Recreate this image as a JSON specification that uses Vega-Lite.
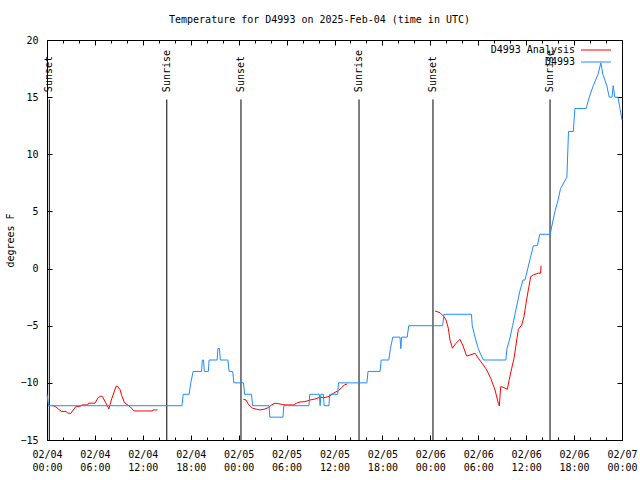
{
  "$schema": "https://vega.github.io/schema/vega-lite/v6.json",
  "width": 575,
  "height": 400,
  "autosize": {"type": "none"},
  "padding": {"left": 47, "top": 40, "right": 18, "bottom": 40},
  "background": "white",
  "config": {
    "font": "DejaVu Sans Mono",
    "view": {"stroke": "black", "strokeWidth": 1},
    "axis": {"grid": false, "domain": false, "labelFont": "DejaVu Sans Mono", "labelFontSize": 10, "labelColor": "black", "tickColor": "black", "tickWidth": 1, "titleFont": "DejaVu Sans Mono", "titleFontSize": 10, "titleFontWeight": "normal", "titleColor": "black", "labelFlush": false, "labelOverlap": false}
  },
  "title": {"text": "Temperature for D4993 on 2025-Feb-04 (time in UTC)", "font": "DejaVu Sans Mono", "fontSize": 10, "fontWeight": "normal", "color": "black", "anchor": "middle", "dx": -15, "offset": 10},
  "datasets": {
    "sun": [
      {"h": 0.29, "event": "Sunset"},
      {"h": 15.0, "event": "Sunrise"},
      {"h": 24.29, "event": "Sunset"},
      {"h": 39.07, "event": "Sunrise"},
      {"h": 48.33, "event": "Sunset"},
      {"h": 62.99, "event": "Sunrise"}
    ],
    "analysis": [
      {"h": 0.65, "temp": -12.0, "seg": 1}, {"h": 0.8, "temp": -12.0, "seg": 1}, {"h": 1.1, "temp": -12.1, "seg": 1}, {"h": 1.8, "temp": -12.5, "seg": 1}, {"h": 2.4, "temp": -12.5, "seg": 1},
      {"h": 2.6, "temp": -12.66, "seg": 1}, {"h": 3.0, "temp": -12.66, "seg": 1}, {"h": 3.6, "temp": -12.08, "seg": 1}, {"h": 4.1, "temp": -12.08, "seg": 1}, {"h": 4.4, "temp": -11.93, "seg": 1},
      {"h": 5.1, "temp": -11.93, "seg": 1}, {"h": 5.2, "temp": -11.78, "seg": 1}, {"h": 6.0, "temp": -11.78, "seg": 1}, {"h": 6.4, "temp": -11.3, "seg": 1}, {"h": 6.75, "temp": -11.15, "seg": 1},
      {"h": 6.95, "temp": -11.2, "seg": 1}, {"h": 7.25, "temp": -11.6, "seg": 1}, {"h": 7.75, "temp": -12.28, "seg": 1}, {"h": 7.9, "temp": -11.9, "seg": 1}, {"h": 8.1, "temp": -11.4, "seg": 1},
      {"h": 8.4, "temp": -10.8, "seg": 1}, {"h": 8.65, "temp": -10.3, "seg": 1}, {"h": 8.8, "temp": -10.27, "seg": 1}, {"h": 9.15, "temp": -10.6, "seg": 1}, {"h": 9.35, "temp": -11.1, "seg": 1},
      {"h": 9.7, "temp": -11.73, "seg": 1}, {"h": 10.4, "temp": -12.08, "seg": 1}, {"h": 10.9, "temp": -12.46, "seg": 1}, {"h": 13.2, "temp": -12.46, "seg": 1}, {"h": 13.3, "temp": -12.37, "seg": 1},
      {"h": 13.85, "temp": -12.37, "seg": 1},
      {"h": 24.58, "temp": -11.43, "seg": 2}, {"h": 24.92, "temp": -11.5, "seg": 2}, {"h": 25.2, "temp": -11.85, "seg": 2}, {"h": 25.5, "temp": -12.08, "seg": 2}, {"h": 25.76, "temp": -12.22, "seg": 2},
      {"h": 26.26, "temp": -12.31, "seg": 2}, {"h": 26.67, "temp": -12.37, "seg": 2}, {"h": 27.17, "temp": -12.31, "seg": 2}, {"h": 27.71, "temp": -12.17, "seg": 2}, {"h": 28.14, "temp": -11.93, "seg": 2},
      {"h": 28.55, "temp": -11.78, "seg": 2}, {"h": 28.96, "temp": -11.82, "seg": 2}, {"h": 29.51, "temp": -11.9, "seg": 2}, {"h": 30.02, "temp": -11.93, "seg": 2}, {"h": 30.84, "temp": -11.93, "seg": 2},
      {"h": 31.27, "temp": -11.78, "seg": 2}, {"h": 31.68, "temp": -11.67, "seg": 2}, {"h": 32.31, "temp": -11.64, "seg": 2}, {"h": 32.93, "temp": -11.5, "seg": 2}, {"h": 33.56, "temp": -11.41, "seg": 2},
      {"h": 34.19, "temp": -11.26, "seg": 2}, {"h": 34.81, "temp": -11.29, "seg": 2}, {"h": 35.44, "temp": -11.15, "seg": 2}, {"h": 35.85, "temp": -10.91, "seg": 2}, {"h": 36.48, "temp": -10.68, "seg": 2},
      {"h": 36.9, "temp": -10.42, "seg": 2}, {"h": 37.23, "temp": -10.18, "seg": 2}, {"h": 37.6, "temp": -10.1, "seg": 2},
      {"h": 48.59, "temp": -3.71, "seg": 3}, {"h": 49.21, "temp": -3.86, "seg": 3}, {"h": 49.71, "temp": -4.21, "seg": 3}, {"h": 49.96, "temp": -4.5, "seg": 3}, {"h": 50.25, "temp": -5.22, "seg": 3},
      {"h": 50.46, "temp": -6.25, "seg": 3}, {"h": 50.77, "temp": -6.97, "seg": 3}, {"h": 51.21, "temp": -6.54, "seg": 3}, {"h": 51.71, "temp": -6.19, "seg": 3}, {"h": 52.05, "temp": -6.69, "seg": 3},
      {"h": 52.55, "temp": -7.65, "seg": 3}, {"h": 52.97, "temp": -7.56, "seg": 3}, {"h": 53.6, "temp": -7.41, "seg": 3}, {"h": 54.01, "temp": -7.85, "seg": 3}, {"h": 54.63, "temp": -8.43, "seg": 3},
      {"h": 55.06, "temp": -8.87, "seg": 3}, {"h": 55.56, "temp": -9.6, "seg": 3}, {"h": 56.1, "temp": -10.62, "seg": 3}, {"h": 56.51, "temp": -11.78, "seg": 3}, {"h": 56.64, "temp": -12.02, "seg": 3},
      {"h": 56.81, "temp": -10.33, "seg": 3}, {"h": 57.14, "temp": -10.39, "seg": 3}, {"h": 57.64, "temp": -10.56, "seg": 3}, {"h": 57.89, "temp": -9.69, "seg": 3}, {"h": 58.19, "temp": -8.72, "seg": 3},
      {"h": 58.48, "temp": -7.85, "seg": 3}, {"h": 58.82, "temp": -6.25, "seg": 3}, {"h": 59.02, "temp": -5.31, "seg": 3}, {"h": 59.44, "temp": -4.93, "seg": 3}, {"h": 59.73, "temp": -4.21, "seg": 3},
      {"h": 59.98, "temp": -3.04, "seg": 3}, {"h": 60.27, "temp": -1.87, "seg": 3}, {"h": 60.57, "temp": -0.7, "seg": 3}, {"h": 60.9, "temp": -0.55, "seg": 3}, {"h": 61.52, "temp": -0.4, "seg": 3},
      {"h": 61.82, "temp": -0.4, "seg": 3}, {"h": 61.85, "temp": 0.25, "seg": 3}
    ],
    "obs": [
      {"h": 0.0, "temp": -11}, {"h": 0.1, "temp": -11.5}, {"h": 0.2, "temp": -12}, {"h": 16.9, "temp": -12}, {"h": 17.05, "temp": -11},
      {"h": 17.8, "temp": -11}, {"h": 18.0, "temp": -10}, {"h": 18.3, "temp": -9}, {"h": 19.35, "temp": -9}, {"h": 19.45, "temp": -8},
      {"h": 19.6, "temp": -8}, {"h": 19.7, "temp": -9}, {"h": 20.2, "temp": -9}, {"h": 20.3, "temp": -8}, {"h": 21.3, "temp": -8},
      {"h": 21.4, "temp": -7}, {"h": 21.6, "temp": -7}, {"h": 21.7, "temp": -8}, {"h": 22.65, "temp": -8}, {"h": 22.8, "temp": -9},
      {"h": 23.25, "temp": -9}, {"h": 23.4, "temp": -10}, {"h": 24.6, "temp": -10}, {"h": 24.75, "temp": -11}, {"h": 25.6, "temp": -11},
      {"h": 25.75, "temp": -12}, {"h": 27.8, "temp": -12}, {"h": 27.9, "temp": -13}, {"h": 29.55, "temp": -13}, {"h": 29.65, "temp": -12},
      {"h": 32.8, "temp": -12}, {"h": 32.9, "temp": -11}, {"h": 34.1, "temp": -11}, {"h": 34.2, "temp": -12}, {"h": 34.3, "temp": -11},
      {"h": 34.6, "temp": -11}, {"h": 34.7, "temp": -12}, {"h": 35.3, "temp": -12}, {"h": 35.4, "temp": -11}, {"h": 36.4, "temp": -11},
      {"h": 36.5, "temp": -10}, {"h": 40.05, "temp": -10}, {"h": 40.2, "temp": -9}, {"h": 41.7, "temp": -9}, {"h": 41.85, "temp": -8},
      {"h": 42.8, "temp": -8}, {"h": 43.0, "temp": -7}, {"h": 43.3, "temp": -6}, {"h": 44.2, "temp": -6}, {"h": 44.3, "temp": -7},
      {"h": 44.4, "temp": -6}, {"h": 45.1, "temp": -6}, {"h": 45.3, "temp": -5}, {"h": 49.55, "temp": -5}, {"h": 49.7, "temp": -4},
      {"h": 53.15, "temp": -4}, {"h": 53.25, "temp": -5}, {"h": 53.6, "temp": -6}, {"h": 54.0, "temp": -7}, {"h": 54.3, "temp": -7.5},
      {"h": 54.65, "temp": -8}, {"h": 57.45, "temp": -8}, {"h": 57.6, "temp": -7}, {"h": 58.0, "temp": -6}, {"h": 58.3, "temp": -5},
      {"h": 58.6, "temp": -4}, {"h": 58.9, "temp": -3}, {"h": 59.2, "temp": -2}, {"h": 59.6, "temp": -1}, {"h": 59.85, "temp": -1},
      {"h": 60.2, "temp": 0}, {"h": 60.55, "temp": 1}, {"h": 60.9, "temp": 2}, {"h": 61.4, "temp": 2}, {"h": 61.7, "temp": 3},
      {"h": 63.0, "temp": 3}, {"h": 63.6, "temp": 5}, {"h": 64.0, "temp": 6}, {"h": 64.3, "temp": 7}, {"h": 65.1, "temp": 8},
      {"h": 65.3, "temp": 12}, {"h": 65.9, "temp": 12}, {"h": 66.1, "temp": 14}, {"h": 67.5, "temp": 14}, {"h": 67.9, "temp": 15},
      {"h": 68.4, "temp": 16}, {"h": 69.0, "temp": 17}, {"h": 69.35, "temp": 18}, {"h": 69.6, "temp": 17}, {"h": 70.1, "temp": 16},
      {"h": 70.4, "temp": 15}, {"h": 70.75, "temp": 15}, {"h": 70.9, "temp": 16}, {"h": 71.1, "temp": 15}, {"h": 71.5, "temp": 15},
      {"h": 71.75, "temp": 14}, {"h": 72.0, "temp": 13}
    ]
  },
  "layer": [
    {
      "data": {"name": "sun"},
      "mark": {"type": "rule", "color": "black", "strokeWidth": 1},
      "encoding": {
        "x": {"field": "h", "type": "quantitative", "scale": {"domain": [0, 72], "nice": false, "zero": false},
              "axis": {"orient": "top", "values": [0, 6, 12, 18, 24, 30, 36, 42, 48, 54, 60, 66, 72], "tickSize": -5, "labels": false, "title": null}},
        "y": {"datum": -15, "type": "quantitative", "scale": {"domain": [-15, 20], "nice": false, "zero": false}, "axis": null},
        "y2": {"datum": 14.8}
      }
    },
    {
      "data": {"name": "sun"},
      "mark": {"type": "text", "angle": 270, "align": "left", "baseline": "middle", "font": "DejaVu Sans Mono", "fontSize": 10, "color": "black", "dx": 1},
      "encoding": {
        "x": {"field": "h", "type": "quantitative",
              "axis": {"orient": "top", "values": [2, 4, 8, 10, 14, 16, 20, 22, 26, 28, 32, 34, 38, 40, 44, 46, 50, 52, 56, 58, 62, 64, 68, 70], "tickSize": -3, "labels": false, "title": null}},
        "y": {"datum": 15.35, "type": "quantitative", "axis": null},
        "text": {"field": "event"}
      }
    },
    {
      "data": {"name": "analysis"},
      "mark": {"type": "line", "strokeWidth": 1},
      "encoding": {
        "x": {"field": "h", "type": "quantitative",
              "axis": {"orient": "bottom", "values": [2, 4, 8, 10, 14, 16, 20, 22, 26, 28, 32, 34, 38, 40, 44, 46, 50, 52, 56, 58, 62, 64, 68, 70], "tickSize": -3, "labels": false, "title": null}},
        "y": {"field": "temp", "type": "quantitative",
              "axis": {"orient": "right", "values": [-15, -10, -5, 0, 5, 10, 15, 20], "tickSize": -5, "labels": false, "title": null}},
        "detail": {"field": "seg"},
        "color": {"datum": "D4993 Analysis", "type": "nominal",
                  "scale": {"domain": ["D4993 Analysis", "D4993"], "range": ["#ff0000", "#1e8cff"]},
                  "legend": {"orient": "none", "legendX": 542, "legendY": 3, "title": null, "symbolType": "M-2.3,0H2.3", "symbolSize": 169, "symbolStrokeWidth": 1,
                             "labelAlign": "right", "labelOffset": -28, "labelFont": "DejaVu Sans Mono", "labelFontSize": 10, "labelColor": "black", "rowPadding": 0}}
      }
    },
    {
      "data": {"name": "obs"},
      "mark": {"type": "line", "strokeWidth": 1},
      "encoding": {
        "x": {"field": "h", "type": "quantitative",
              "axis": {"orient": "bottom", "values": [0, 6, 12, 18, 24, 30, 36, 42, 48, 54, 60, 66, 72], "tickSize": -5, "labelPadding": 14, "labelLineHeight": 13, "labelBaseline": "top",
                       "labelExpr": "['02/0' + (4 + floor(datum.value / 24)), format(datum.value % 24, '02d') + ':00']", "title": null}},
        "y": {"field": "temp", "type": "quantitative",
              "axis": {"orient": "left", "values": [-15, -10, -5, 0, 5, 10, 15, 20], "tickSize": -5, "labelPadding": 14, "title": "degrees F", "titlePadding": 4}},
        "color": {"datum": "D4993", "type": "nominal"}
      }
    }
  ],
  "resolve": {"axis": {"x": "independent", "y": "independent"}}
}
